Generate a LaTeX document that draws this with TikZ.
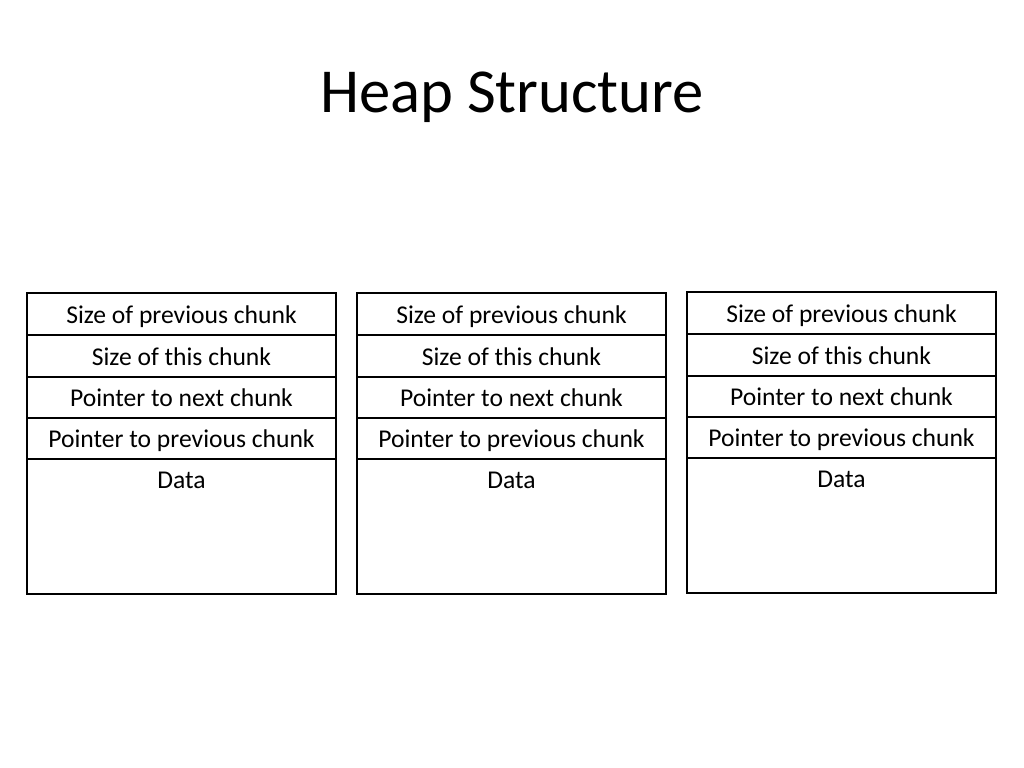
\documentclass[tikz,border=0pt]{standalone}
\usepackage{fontspec}
\setmainfont{Carlito}
\usetikzlibrary{calc}
\tikzset{
  px/.style={x=0.703125pt,y=-0.703125pt},
  cell/.style={draw, line width=1.9pt, minimum width=309*0.703125pt, inner sep=0pt, outer sep=0pt, anchor=north west, font=\fontsize{18}{21}\selectfont, text height=16.7pt, text depth=3.5pt},
  celltext/.style={font=\fontsize{18}{21}\selectfont, inner sep=0pt, text height=16.7pt, text depth=3.5pt},
  titletext/.style={font=\fontsize{44}{52}\selectfont, inner sep=0pt}
}
\newcommand\heapchunk[3]{%
  \node[cell, minimum height=42*0.703125pt] (#1a) at (#2,#3) {Size of previous chunk};
  \node[cell, minimum height=42*0.703125pt] (#1b) at (#2,#3+42) {Size of this chunk};
  \node[cell, minimum height=41*0.703125pt] (#1c) at (#2,#3+84) {Pointer to next chunk};
  \node[cell, minimum height=41*0.703125pt] (#1d) at (#2,#3+125) {Pointer to previous chunk};
  \node[cell, minimum height=135*0.703125pt] (#1e) at (#2,#3+166) {};
  \node[celltext] (#1data) at ($(#1e.north)+(0,20.5)$) {Data};
}
\begin{document}
\begin{tikzpicture}[px]
\useasboundingbox (0,0) rectangle (1024,768);
\node[titletext] (title) at (512,97) {Heap Structure};
\heapchunk{k1}{27}{293}
\heapchunk{k2}{357}{293}
\heapchunk{k3}{687}{292}
\end{tikzpicture}
\end{document}
